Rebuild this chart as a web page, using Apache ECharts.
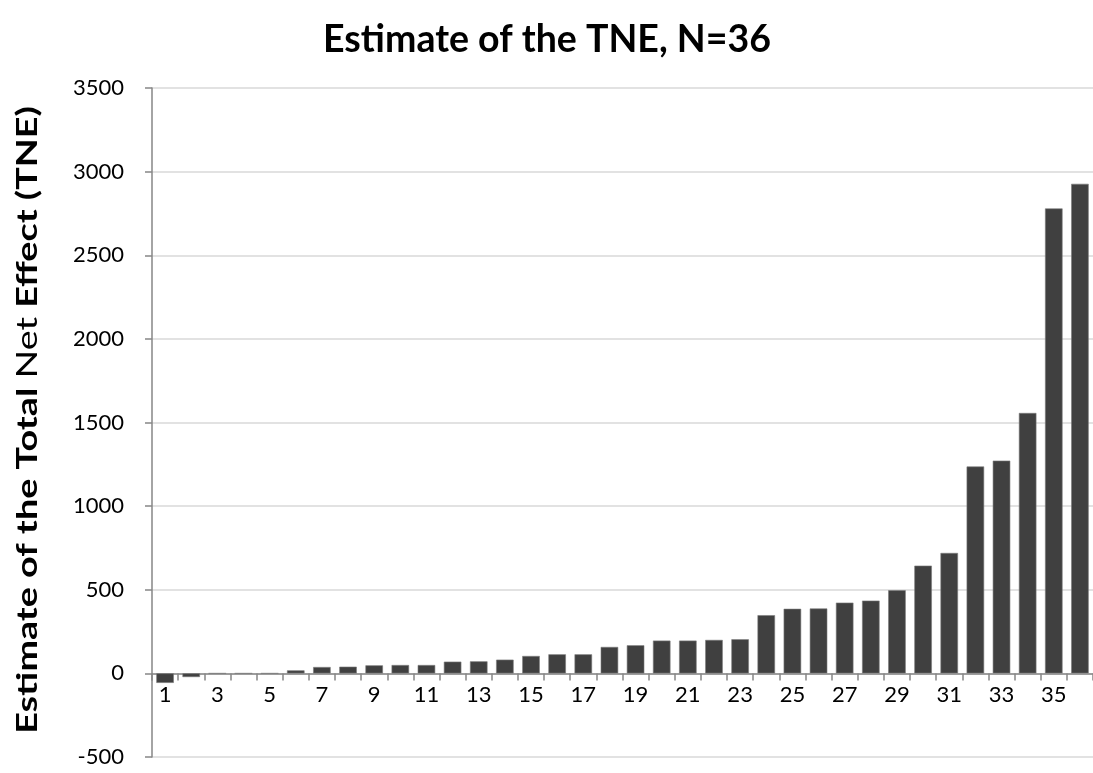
<!DOCTYPE html>
<html>
<head>
<meta charset="utf-8">
<script src="https://cdn.jsdelivr.net/npm/echarts@6/dist/echarts.min.js"></script>
<style>
  html, body { margin: 0; padding: 0; background: #fff; }
  #chart { width: 1093px; height: 773px; }
</style>
</head>
<body>
<div id="chart"></div>
<script>
// Units 1..36, sorted by estimated total net effect
const categories = Array.from({ length: 36 }, (_, i) => String(i + 1));
const tneValues = [
  -57, -22, 0, 0, 0, 18, 38, 40, 48, 50,
  50, 70, 72, 82, 104, 114, 114, 158, 168, 196,
  196, 200, 204, 348, 386, 388, 423, 435, 497, 644,
  720, 1237, 1272, 1557, 2780, 2927
];
const yTicks = { min: -500, max: 3500, step: 500 };

const FONT = 'Lato, "Open Sans", "Liberation Sans", sans-serif';
const GRID = { left: 152, right: 0, top: 88, bottom: 16 };
const chartHeight = 773;
// distance from the bottom of the plot up to the value 0, so the category axis sits on it
const plotH = chartHeight - GRID.top - GRID.bottom;
const zeroOffset = plotH * (0 - yTicks.min) / (yTicks.max - yTicks.min);

const chart = echarts.init(document.getElementById('chart'), null, { renderer: 'canvas' });

chart.setOption({
  backgroundColor: '#ffffff',
  animation: false,
  graphic: [{
    type: 'text',
    x: 547,
    y: 40,
    style: {
      text: 'Estimate of the TNE, N=36',
      align: 'center',
      verticalAlign: 'middle',
      fontFamily: FONT, fontWeight: 'bold', fontSize: 37.5, fill: '#000'
    }
  }, {
    // vertical axis title, drawn upward and stretched along its baseline
    type: 'text',
    x: 28,
    y: 420,
    rotation: Math.PI / 2,
    scaleX: 1.3,
    style: {
      text: '{b|Estimate of the Total }{r|Net}{b| Effect (TNE)}',
      align: 'center',
      verticalAlign: 'middle',
      rich: {
        b: { fontFamily: FONT, fontWeight: 'bold', fontSize: 29, fill: '#000' },
        r: { fontFamily: FONT, fontWeight: 'normal', fontSize: 29, fill: '#000' }
      }
    }
  }],
  grid: Object.assign({ containLabel: false, outerBoundsMode: 'none' }, GRID),
  xAxis: {
    type: 'category',
    data: categories,
    boundaryGap: true,
    offset: -zeroOffset,
    axisLine: { onZero: false, lineStyle: { color: '#868686', width: 1.5 } },
    axisTick: { show: true, interval: 0, length: 7, lineStyle: { color: '#868686', width: 1.5 } },
    axisLabel: { interval: 1, margin: 11, fontFamily: FONT, fontSize: 22, color: '#000' },
    splitLine: { show: false }
  },
  yAxis: {
    type: 'value',
    min: yTicks.min,
    max: yTicks.max,
    interval: yTicks.step,
    axisLine: { show: true, lineStyle: { color: '#868686', width: 1.5 } },
    axisTick: { show: true, length: 7, lineStyle: { color: '#868686', width: 1.5 } },
    axisLabel: { margin: 28, fontFamily: FONT, fontSize: 22, color: '#000', formatter: v => String(v) },
    splitLine: { show: true, lineStyle: { color: '#d9d9d9', width: 1.5 } }
  },
  series: [{
    type: 'bar',
    data: tneValues,
    barCategoryGap: '33%',
    itemStyle: { color: '#404040', borderColor: '#7a7a7a', borderWidth: 0.6 }
  }]
});
</script>
</body>
</html>
